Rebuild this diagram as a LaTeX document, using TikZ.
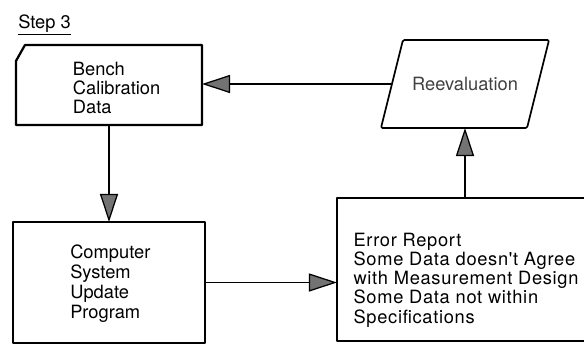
\documentclass[tikz,border=0pt]{standalone}
\usepackage{fontspec}
\setmainfont{TeX Gyre Heros}
\newfontfamily\spacedfont[LetterSpace=3.8]{TeX Gyre Heros}
\usetikzlibrary{positioning,arrows.meta}

\begin{document}
\begin{tikzpicture}[x=0.025cm,y=-0.025cm,
  >={Triangle[length=0.7cm,width=0.45cm,fill=black!55]},
  txt/.style={anchor=north west,inner sep=0pt,align=left,font=\fontsize{13}{13.5}\selectfont},
  blockbox/.style={rectangle,inner sep=0pt,outer sep=0pt},
  frame/.style={line width=1.6pt,line join=round},
  flow/.style={->,line width=0.9pt}]
\clip (0,0) rectangle (584,349);
% heading
\node[txt] (title) at (18,15) {Step 3};
\draw[line width=1pt] ([yshift=-0.03cm]title.south west) -- ([yshift=-0.03cm]title.south east);
% bench data card, top left corner cut off
\node[blockbox,minimum width=4.65cm,minimum height=2cm] (bench) at (109,85) {};
\draw[frame] ([yshift=-0.4cm]bench.north west) -- ([xshift=0.225cm]bench.north west) -- (bench.north east) -- (bench.south east) -- (bench.south west) -- cycle;
\node[txt] (benchtxt) at (72.7,61.7) {Bench\\Calibration\\Data};
% update program
\node[blockbox,draw,frame,minimum width=4.8cm,minimum height=3.025cm] (comp) at (109,282.5) {};
\node[txt,font=\fontsize{13}{14.2}\selectfont] (comptxt) at (70,245) {Computer\\System\\Update\\Program};
% reevaluation (parallelogram)
\node[blockbox,minimum width=3.65cm,minimum height=2.2cm,text=black!75,font=\fontsize{13}{13.5}\selectfont] (reeval) at (465,84) {Reevaluation};
\draw[line width=1.2pt,line join=round,rounded corners=1pt] ([xshift=-0.275cm]reeval.south west) -- ([xshift=-0.275cm]reeval.south east) -- ([xshift=0.275cm]reeval.north east) -- ([xshift=0.275cm]reeval.north west) -- cycle;
% error report, runs off to the right
\node[blockbox,draw,frame,minimum width=7.575cm,minimum height=3.575cm] (err) at (488.5,269.5) {};
\node[txt,font=\spacedfont\fontsize{13}{13.65}\selectfont] (errtxt) at (353.3,232.7) {Error Report\\Some Data doesn't Agree\\with Measurement Design\\Some Data not within\\Specifications};
% connectors
\draw[flow] (reeval.west) -- (reeval.west -| bench.east);
\draw[flow] (bench) -- (comp);
\draw[flow] (comp.east) -- (comp.east -| err.west);
\draw[flow] (reeval.south |- err.north) -- (reeval.south);
\end{tikzpicture}
\end{document}
